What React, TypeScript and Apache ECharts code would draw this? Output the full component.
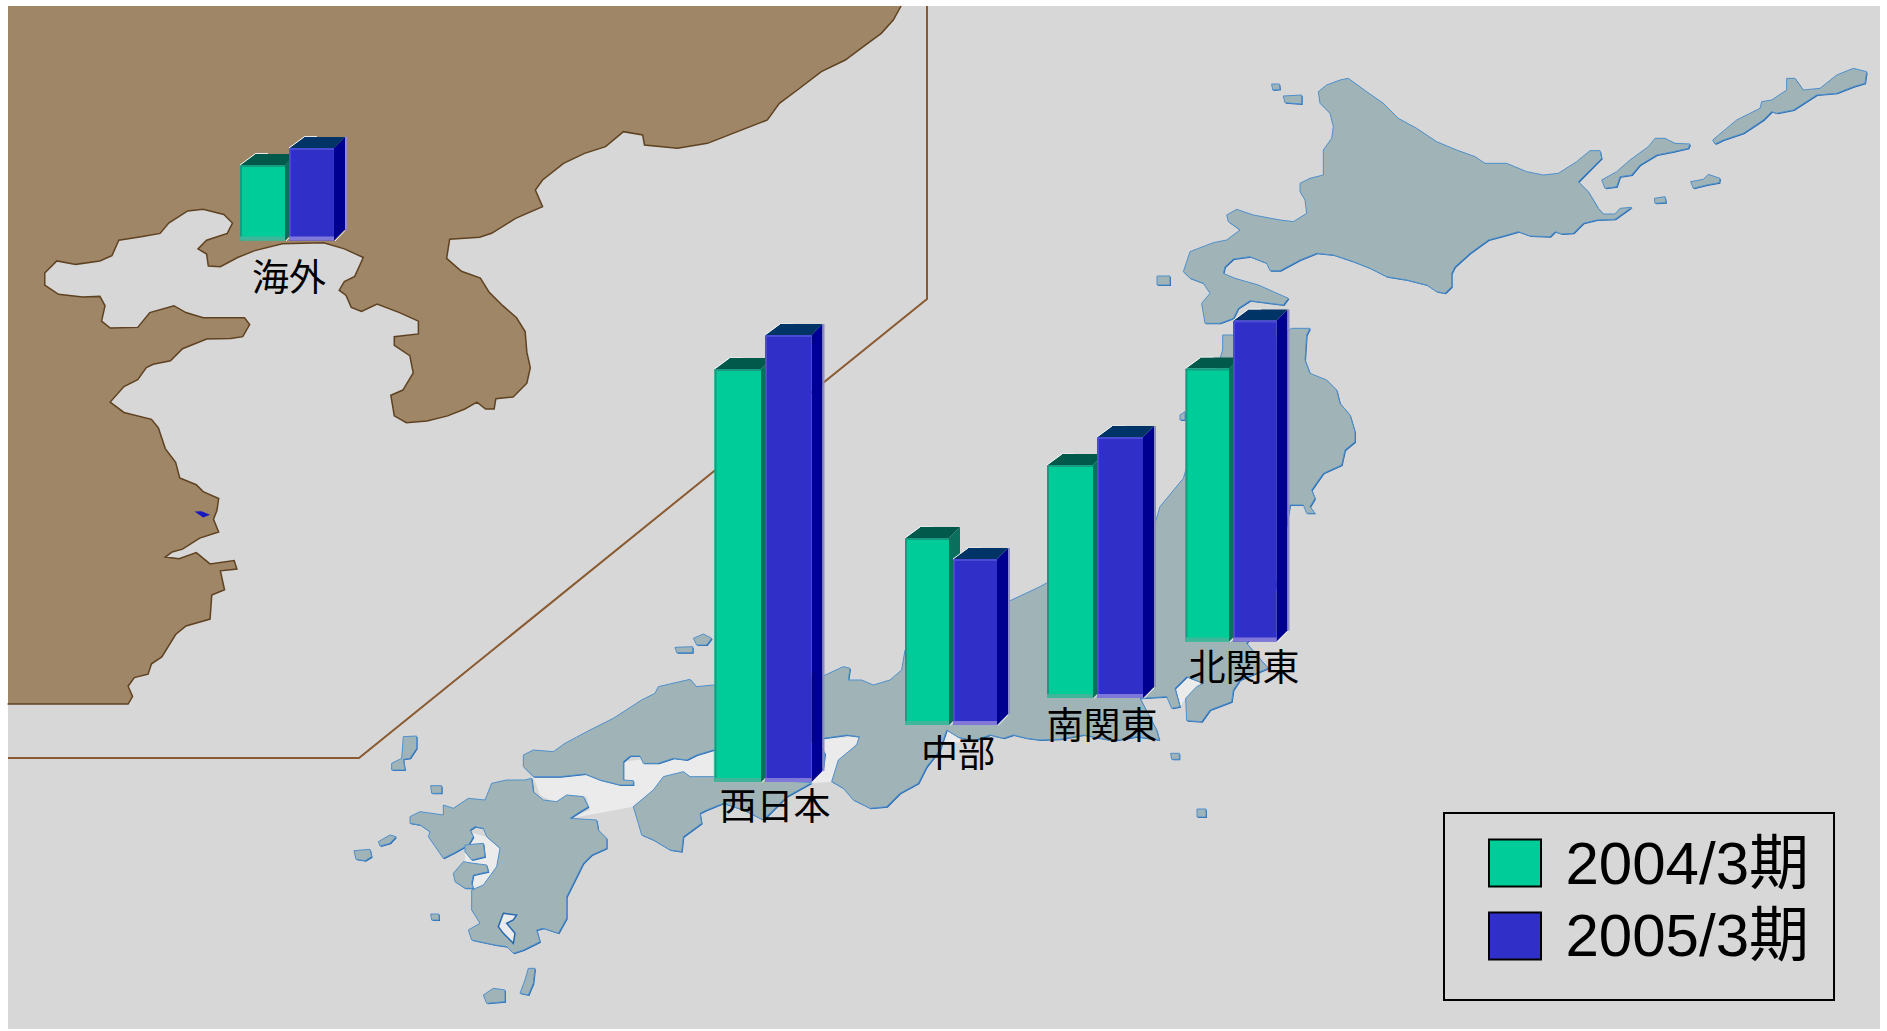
import React, { useEffect, useRef } from "react";
import * as echarts from "echarts";

// Sales per region and fiscal period, in the chart's own bar-height units.
const regions = ["海外", "西日本", "中部", "南関東", "北関東"];
const periods = ["2004/3期", "2005/3期"];
const values2004 = [75.5, 413, 187, 233, 273];
const values2005 = [92.5, 447, 166, 261, 321];

// Where each small bar group stands on the map.
const groupLeft = [240, 714.5, 905, 1047, 1185.5];
const groupWidth = [98, 101, 96, 100, 95];
const groupBase = [240.5, 782, 725, 698, 641.5];
const axisMax = [100, 500, 500, 500, 500];
const labelCenter = [
  [289, 275],
  [775, 804],
  [958, 751],
  [1102, 723],
  [1244, 665],
];

const SEA = "#d7d7d7";
const BROWN = "#9e8666";
const COAST = "#5f4222";
const FRAME = "#8a5a30";
const ISLES = "#a0b4b8";
const ISLE_EDGE = "#4e90cc";
const ISLE_SHADE = "#2468b0";
const BAY = "#ebebeb";
const FONT = '"Liberation Sans","Noto Sans CJK JP",sans-serif';

const barStyles = [
  { front: "#00cc99", side: "#0a6f5c", top: "#00594a", edge: "#1a9a80", foot: "#3fb59a", rim: "" },
  { front: "#3030c8", side: "#000090", top: "#003366", edge: "#4a4ad4", foot: "#8078d8", rim: "#8c8cc8" },
];

// Outlines are stored as flat x,y lists in a local grid, then scaled onto the page.
type Pts = number[][];
const place = (flat: number[], ox: number, oy: number, sx: number, sy: number): Pts => {
  const out: Pts = [];
  for (let i = 0; i < flat.length; i += 2) out.push([ox + flat[i] * sx, oy + flat[i + 1] * sy]);
  return out;
};
const gridA = (f: number[]) => place(f, 0, 0, 1 / 1.668, 1 / 3);
const gridB = (f: number[]) => place(f, 0, 180, 1 / 2.904, 1 / 2.904);
const hokkaidoGrid = (f: number[]) => place(f, 1170, 60, 1 / 3, 1 / 3);
const kurilGrid = (f: number[]) => place(f, 1560, 40, 1 / 3, 1 / 3);
const eastGrid = (f: number[]) => place(f, 1040, 300, 1 / 3, 1 / 3);
const westGrid = (f: number[]) => place(f, 510, 620, 1 / 3, 1 / 3);
const kyushuGrid = (f: number[]) => place(f, 340, 720, 1 / 3, 1 / 3);

// Continental coast, from the top edge round Korea and the Yellow Sea to the bottom edge.
const continentCoast: Pts = [
  ...gridA([
    1503, 18, 1490, 60, 1470, 100, 1440, 140, 1410, 180, 1370, 215, 1330, 270, 1300, 310, 1280, 360, 1230, 395,
    1180, 430, 1130, 445, 1075, 435, 1072, 405, 1040, 395, 1010, 440, 975, 460, 940, 490, 905, 540, 893, 570,
    905, 620, 860, 655, 820, 700, 800, 712, 750, 718, 745, 775,
  ]),
  ...gridB([
    1340, 265, 1395, 285, 1420, 325, 1460, 365, 1500, 400, 1525, 440, 1530, 500, 1540, 545, 1530, 590, 1490, 630,
    1440, 635, 1435, 665, 1410, 665, 1385, 645, 1350, 665, 1300, 685, 1240, 700, 1180, 705, 1145, 685, 1135, 625,
    1170, 610, 1200, 560, 1190, 510, 1145, 480, 1145, 455, 1215, 447, 1215, 410, 1160, 385, 1095, 360, 1050, 382,
    1020, 370, 1005, 335, 985, 320, 1000, 295, 1030, 280, 1055, 225, 1000, 200, 940, 182, 820, 185, 740, 205,
    690, 225, 640, 252, 605, 250, 600, 215, 575, 200, 600, 175, 660, 155, 675, 125, 650, 100, 590, 85, 545, 90,
    490, 125, 465, 155, 410, 165, 345, 175, 325, 220, 290, 235, 220, 245, 165, 235, 130, 270, 130, 305, 170, 332,
    240, 340, 290, 338, 305, 365, 295, 410, 320, 430, 400, 428, 435, 385, 505, 365, 540, 385, 590, 400, 710, 400,
    725, 420, 705, 455, 670, 460, 600, 462, 530, 490, 495, 525, 445, 535, 425, 545, 400, 580, 360, 600, 320, 645,
    360, 675, 440, 695, 460, 720, 480, 780, 510, 820, 522, 865, 570, 885, 590, 905, 635, 925, 630, 960, 620, 985,
    635, 1022, 580, 1040, 530, 1072, 500, 1080, 480, 1095, 520, 1100, 570, 1082, 610, 1115, 680, 1105, 688, 1130,
    640, 1135, 652, 1190, 615, 1205, 610, 1275, 540, 1295, 510, 1320, 470, 1385, 440, 1405, 430, 1435, 390, 1445,
    372, 1470, 385, 1500, 372, 1522, 22, 1522,
  ]),
];
const continentFill: Pts = [[8, 6], ...continentCoast, [8, 704]];
const lakeMark = gridB([565, 963, 585, 962, 610, 972, 590, 980]);
const insetFrame: Pts = [[927, 6], [927, 299], [359, 758], [8, 758]];

const hokkaido = hokkaidoGrid([
  510, 60, 535, 55, 590, 95, 640, 130, 685, 175, 740, 205, 800, 245, 860, 270, 915, 290, 945, 310, 1010, 310, 1070, 335,
  1120, 345, 1165, 340, 1220, 305, 1260, 272, 1290, 272, 1295, 295, 1260, 330, 1225, 365, 1255, 395, 1285, 445, 1300, 462,
  1335, 462, 1350, 445, 1385, 442, 1360, 460, 1335, 478, 1280, 480, 1240, 490, 1210, 520, 1175, 522, 1155, 515, 1140, 530,
  1080, 528, 1045, 515, 1000, 528, 955, 540, 900, 580, 855, 620, 845, 640, 845, 680, 825, 700, 800, 695, 770, 675, 710, 660,
  650, 650, 600, 625, 550, 605, 490, 585, 440, 580, 390, 600, 330, 632, 300, 632, 290, 610, 240, 590, 190, 597, 165, 620,
  160, 640, 195, 655, 265, 675, 310, 695, 355, 715, 340, 735, 240, 722, 205, 745, 190, 775, 150, 790, 105, 790, 95, 730,
  120, 700, 100, 670, 60, 655, 40, 635, 60, 575, 130, 548, 170, 540, 210, 510, 175, 485, 170, 465, 200, 448, 250, 465,
  330, 480, 370, 485, 410, 460, 405, 420, 390, 395, 390, 370, 420, 355, 460, 345, 460, 270, 485, 235, 490, 200, 480, 160,
  450, 130, 445, 95, 470, 75,
]);

// Honshu, clockwise from the northern tip; parts of it run behind the bars.
const honshu: Pts = [
  ...eastGrid([
    755, 85, 810, 85, 800, 105, 795, 180, 810, 220, 860, 240, 890, 270, 900, 310, 930, 345, 945, 395, 945, 425, 915, 450,
    905, 495, 850, 520, 815, 570, 825, 595, 810, 620, 825, 640, 800, 640, 790, 615, 750, 615, 700, 900, 620, 1030, 685, 1105,
    600, 1140, 580, 1170, 575, 1205, 510, 1230, 485, 1265, 440, 1262, 437, 1195, 470, 1160, 490, 1150, 440, 1130, 405, 1165,
    420, 1220, 395, 1225, 380, 1190, 300, 1195, 350, 1290, 358, 1320, 290, 1310, 220, 1322, 130, 1305, 60, 1318, 0, 1320,
  ]),
  ...westGrid([
    1550, 355, 1510, 345, 1480, 355, 1440, 345, 1390, 362, 1345, 352, 1310, 330, 1290, 390, 1250, 440, 1225, 490, 1170, 520,
    1130, 560, 1080, 565, 1030, 540, 1000, 505, 965, 485, 985, 420, 1040, 375, 1048, 350, 1010, 345, 940, 355, 610, 390,
    560, 405, 530, 420, 490, 415, 445, 430, 400, 430, 390, 408, 360, 408, 340, 425, 340, 480, 370, 482, 370, 495, 330, 495,
    270, 480, 225, 462, 150, 470, 70, 470, 40, 440, 40, 405, 70, 390, 130, 395, 165, 370, 240, 330, 310, 295, 395, 240,
    435, 220, 445, 200, 540, 178, 560, 200, 610, 195, 935, 170, 1000, 140, 1020, 145, 1015, 180, 1055, 180, 1090, 195,
    1140, 180, 1175, 150, 1185, 90,
  ]),
  ...eastGrid([0, 860, 345, 670, 360, 620, 430, 535, 548, 150, 548, 105, 575, 105, 640, 120, 700, 120]),
];

const shikoku = westGrid([
  370, 560, 430, 510, 460, 470, 520, 455, 540, 470, 610, 470, 905, 488, 830, 530, 790, 570, 760, 600, 700, 570, 640, 550,
  590, 570, 570, 580, 575, 610, 520, 650, 515, 695, 480, 690, 430, 660, 395, 645, 385, 610,
]);

const kyushu = kyushuGrid([
  555, 180, 575, 175, 580, 215, 610, 240, 650, 245, 680, 225, 730, 230, 745, 260, 720, 275, 690, 295, 770, 300, 775, 330,
  800, 355, 800, 385, 755, 405, 730, 430, 705, 480, 680, 530, 680, 595, 655, 640, 610, 625, 590, 630, 600, 665, 550, 690,
  520, 700, 500, 680, 465, 675, 395, 660, 385, 630, 420, 610, 395, 570, 395, 510, 430, 495, 470, 440, 480, 385, 440, 350,
  430, 325, 405, 320, 390, 330, 400, 350, 385, 375, 340, 400, 310, 415, 265, 350, 270, 335, 240, 315, 210, 310, 210, 290,
  240, 275, 310, 285, 310, 255, 340, 265, 385, 235, 435, 240, 455, 190, 500, 180,
]);

const minorIslands: Pts[] = [
  hokkaidoGrid([305, 72, 328, 72, 330, 88, 308, 90]),
  hokkaidoGrid([340, 108, 395, 105, 395, 132, 345, 128]),
  place([0, 0, 13, 0, 13, 9, 0, 9], 1157, 276, 1, 1),
  kurilGrid([125, 420, 170, 395, 210, 360, 265, 320, 285, 295, 315, 295, 345, 310, 390, 312, 385, 325, 340, 335, 290, 345, 240, 375, 215, 405, 180, 410, 170, 440, 135, 445]),
  kurilGrid([458, 300, 500, 265, 530, 240, 600, 205, 605, 185, 635, 180, 680, 150, 680, 115, 705, 115, 730, 150, 780, 145, 830, 105, 880, 85, 920, 95, 915, 130, 880, 140, 830, 160, 770, 165, 700, 210, 650, 220, 635, 215, 610, 240, 550, 280, 490, 300, 465, 312]),
  kurilGrid([392, 425, 430, 418, 445, 403, 480, 415, 478, 428, 440, 435, 400, 445]),
  kurilGrid([283, 475, 315, 470, 318, 488, 285, 490]),
  eastGrid([420, 345, 435, 335, 435, 360, 420, 360]),
  eastGrid([392, 1360, 418, 1360, 418, 1378, 395, 1378]),
  place([0, 0, 9, 0, 9, 8, 0, 8], 1197, 809, 1, 1),
  westGrid([550, 55, 580, 42, 605, 55, 590, 75, 560, 75]),
  westGrid([495, 82, 548, 80, 548, 98, 500, 98]),
  westGrid([935, 385, 945, 400, 940, 440, 925, 460]),
  kyushuGrid([42, 392, 90, 388, 95, 410, 75, 422, 48, 418]),
  kyushuGrid([115, 365, 150, 345, 168, 350, 150, 370, 120, 378]),
  kyushuGrid([190, 50, 230, 48, 230, 85, 210, 115, 190, 118, 195, 150, 155, 150, 155, 130, 185, 115]),
  kyushuGrid([272, 197, 305, 197, 305, 220, 275, 220]),
  kyushuGrid([272, 582, 297, 582, 297, 600, 275, 600]),
  kyushuGrid([540, 820, 555, 780, 565, 745, 585, 745, 580, 790, 565, 825]),
  kyushuGrid([430, 825, 460, 805, 495, 810, 495, 845, 440, 850]),
  kyushuGrid([375, 375, 430, 370, 435, 410, 395, 420, 375, 395]),
  kyushuGrid([340, 460, 370, 425, 400, 430, 440, 435, 445, 455, 400, 465, 395, 490, 400, 505, 375, 505, 345, 485]),
];

// Enclosed waters are paler than the open sea and sit under the land.
const paleWaters: Pts[] = [
  westGrid([70, 470, 230, 465, 330, 495, 370, 495, 340, 480, 340, 425, 610, 390, 610, 470, 540, 470, 520, 455, 460, 470, 430, 510, 370, 560, 290, 575, 180, 595, 240, 570, 230, 530, 190, 525, 130, 545, 90, 525]),
  westGrid([940, 355, 1045, 350, 1040, 370, 985, 420, 965, 485, 905, 490, 935, 460]),
  westGrid([1310, 325, 1470, 325, 1450, 350, 1390, 365, 1300, 370]),
  eastGrid([405, 1165, 440, 1130, 490, 1150, 470, 1160, 437, 1195, 420, 1220]),
  kyushuGrid([400, 340, 440, 350, 480, 385, 470, 440, 430, 495, 395, 510, 380, 480, 345, 470, 375, 420, 375, 375]),
];
const kagoshimaBay = kyushuGrid([490, 580, 530, 585, 520, 600, 500, 610, 525, 640, 520, 670, 490, 640, 475, 620]);

const islandShapes = (points: Pts) => [
  { type: "polygon", shape: { points }, x: 1, y: 1, silent: true, style: { fill: ISLE_SHADE } },
  { type: "polygon", shape: { points }, silent: true, style: { fill: ISLES, stroke: ISLE_EDGE, lineWidth: 1 } },
];

function mapGraphics() {
  const land = [hokkaido, honshu, shikoku, kyushu, ...minorIslands];
  return [
    { type: "rect", shape: { x: 8, y: 6, width: 1872, height: 1023 }, silent: true, style: { fill: SEA } },
    { type: "polygon", shape: { points: continentFill }, silent: true, style: { fill: BROWN } },
    { type: "polyline", shape: { points: continentCoast }, silent: true, style: { fill: "none", stroke: COAST, lineWidth: 1.5 } },
    { type: "polygon", shape: { points: lakeMark }, silent: true, style: { fill: "#1818c0" } },
    { type: "polyline", shape: { points: insetFrame }, silent: true, style: { fill: "none", stroke: FRAME, lineWidth: 2 } },
    ...paleWaters.map((points) => ({ type: "polygon", shape: { points }, silent: true, style: { fill: BAY } })),
    ...land.flatMap(islandShapes),
    { type: "polygon", shape: { points: kagoshimaBay }, silent: true, style: { fill: BAY, stroke: ISLE_SHADE, lineWidth: 1.5 } },
    ...regions.map((name, i) => ({
      type: "text",
      x: labelCenter[i][0],
      y: labelCenter[i][1],
      silent: true,
      style: { text: name, fill: "#000", font: `37px "Noto Sans CJK JP",sans-serif`, align: "center", verticalAlign: "middle" },
    })),
  ];
}

// A bar drawn as a pseudo-3D box: front face, lit rim, roof and right-hand side.
const DEPTH_X = 11;
const DEPTH_Y = 11;
const ROOF_LEAN = 15;

const makeBoxRenderer = (look: (typeof barStyles)[number]) => (_params: any, api: any) => {
  const index = api.value(0);
  const top = api.coord([index, api.value(1)]);
  const base = api.coord([index, 0]);
  const band = api.size([1, 0])[0];
  const x0 = top[0] - band / 2;
  const x1 = x0 + band - 4;
  const yT = top[1];
  const yB = base[1];
  const poly = (points: number[][], fill: string) => ({ type: "polygon", shape: { points }, style: { fill } });
  const bar = (x: number, y: number, width: number, height: number, fill: string) => ({
    type: "rect",
    shape: { x, y, width, height },
    style: { fill },
  });
  const line = (p: number[], q: number[], stroke: string, lineWidth = 1.5) => ({
    type: "line",
    shape: { x1: p[0], y1: p[1], x2: q[0], y2: q[1] },
    style: { stroke, lineWidth },
  });
  const children: any[] = [
    poly([[x1, yT], [x1 + DEPTH_X, yT - DEPTH_Y], [x1 + DEPTH_X, yB - DEPTH_Y], [x1, yB]], look.side),
    poly([[x0, yT], [x1, yT], [x1 + DEPTH_X, yT - DEPTH_Y], [x0 + ROOF_LEAN, yT - DEPTH_Y]], look.top),
    bar(x0, yT, x1 - x0, yB - yT, look.front),
    bar(x0, yT, 2, yB - yT, look.edge),
    bar(x0, yT, x1 - x0, 2, look.edge),
    bar(x0, yB - 4, x1 - x0, 4, look.foot),
    line([x0, yT], [x0 + ROOF_LEAN, yT - DEPTH_Y], "#ffffff", 1),
    line([x0 + ROOF_LEAN, yT - DEPTH_Y - 0.5], [x0 + 28, yT - DEPTH_Y - 0.5], "#e8e8e8", 1),
    line([x1 + 1, yB + 0.5], [x1 + DEPTH_X, yB - DEPTH_Y + 1], "#f4f4f4", 1),
  ];
  if (look.rim) {
    children.push(line([x1 + DEPTH_X + 1, yT - DEPTH_Y], [x1 + DEPTH_X + 1, yB - DEPTH_Y], look.rim, 2));
  }
  return { type: "group", children };
};

function buildOption() {
  const grid = regions.map((_, i) => ({
    left: groupLeft[i],
    width: groupWidth[i],
    top: groupBase[i] - axisMax[i],
    height: axisMax[i],
    containLabel: false,
  }));
  const xAxis = regions.map((_, i) => ({ type: "category", gridIndex: i, data: periods, show: false, boundaryGap: true }));
  const yAxis = regions.map((_, i) => ({ type: "value", gridIndex: i, min: 0, max: axisMax[i], show: false }));
  const series = regions.flatMap((_, i) =>
    [values2004, values2005].map((vals, p) => ({
      type: "custom",
      name: periods[p],
      xAxisIndex: i,
      yAxisIndex: i,
      z: 2 + p,
      silent: true,
      itemStyle: { color: barStyles[p].front },
      encode: { x: 0, y: 1 },
      data: [[p, vals[i]]],
      renderItem: makeBoxRenderer(barStyles[p]),
    })),
  );
  return {
    animation: false,
    backgroundColor: "#ffffff",
    tooltip: { show: false },
    grid,
    xAxis,
    yAxis,
    series,
    graphic: { elements: mapGraphics() },
    legend: {
      show: true,
      orient: "vertical",
      left: 1444,
      top: 813,
      align: "left",
      selectedMode: false,
      borderColor: "#000",
      borderWidth: 2,
      padding: [20, 25, 34, 44],
      itemGap: 13,
      itemWidth: 52,
      itemHeight: 47,
      data: periods.map((name, p) => ({
        name,
        icon: "rect",
        itemStyle: { color: barStyles[p].front, borderColor: "#000", borderWidth: 2 },
      })),
      textStyle: { color: "#000", fontSize: 60, fontFamily: FONT, lineHeight: 47, padding: [0, 0, 0, 19.5] },
    },
  };
}

export default function App() {
  const ref = useRef<HTMLDivElement>(null);
  useEffect(() => {
    document.body.style.margin = "0";
    const chart = echarts.init(ref.current as HTMLDivElement, undefined, { renderer: "svg" });
    chart.setOption(buildOption() as any);
    return () => chart.dispose();
  }, []);
  return <div ref={ref} style={{ width: 1887, height: 1031 }} />;
}
